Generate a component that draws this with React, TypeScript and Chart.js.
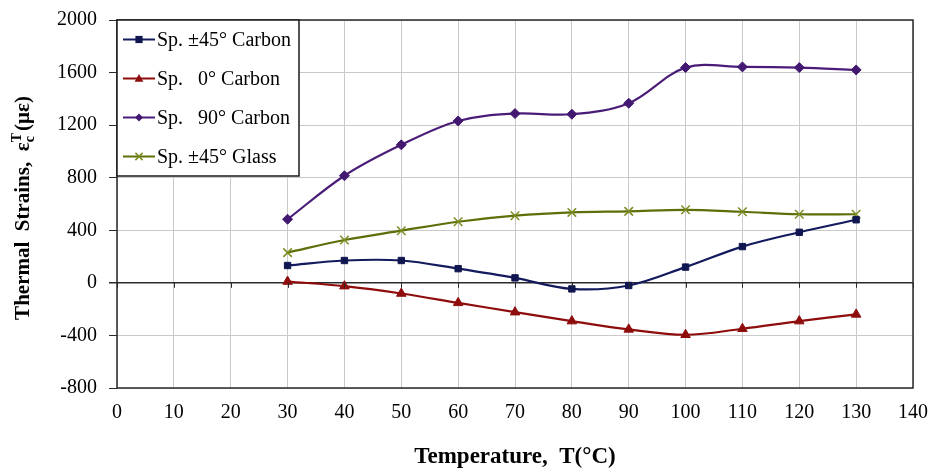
import React, { useEffect, useRef } from "react";
import { Chart, registerables } from "chart.js";

Chart.register(...registerables);

const temperatures = [30, 40, 50, 60, 70, 80, 90, 100, 110, 120, 130];
const carbon45 = [132, 170, 170, 108, 38, -46, -20, 120, 276, 385, 480];
const carbon0 = [10, -25, -81, -152, -223, -291, -354, -395, -349, -291, -240];
const carbon90 = [484, 815, 1050, 1232, 1288, 1283, 1367, 1638, 1643, 1638, 1620];
const glass45 = [230, 326, 397, 465, 511, 536, 544, 556, 541, 522, 522];

const seriesLabels = ["Sp. ±45° Carbon", "Sp.   0° Carbon", "Sp.   90° Carbon", "Sp. ±45° Glass"];
const xTicks = [0, 10, 20, 30, 40, 50, 60, 70, 80, 90, 100, 110, 120, 130, 140];
const yTicks = [-800, -400, 0, 400, 800, 1200, 1600, 2000];

const colors = ["#141a5e", "#8e0c0c", "#4a1c78", "#5f6e08"];
const markerColors = ["#101650", "#8e0c0c", "#421870", "#7d8c22"];
const pointStyles = ["rect", "triangle", "rectRot", "crossRot"];
const pointRadii = [4.5, 5.5, 5, 6];

const SERIF = "'Liberation Serif', 'Times New Roman', serif";

function drawMarker(ctx: CanvasRenderingContext2D, style: string, x: number, y: number, r: number, color: string) {
  ctx.save();
  ctx.fillStyle = color;
  ctx.strokeStyle = color;
  ctx.lineWidth = 1.5;
  ctx.beginPath();
  if (style === "rect") {
    ctx.rect(x - r, y - r, 2 * r, 2 * r);
    ctx.fill();
  } else if (style === "triangle") {
    ctx.moveTo(x, y - r);
    ctx.lineTo(x + r, y + r * 0.75);
    ctx.lineTo(x - r, y + r * 0.75);
    ctx.closePath();
    ctx.fill();
  } else if (style === "rectRot") {
    ctx.moveTo(x, y - r);
    ctx.lineTo(x + r, y);
    ctx.lineTo(x, y + r);
    ctx.lineTo(x - r, y);
    ctx.closePath();
    ctx.fill();
  } else {
    const d = r * 0.75;
    ctx.moveTo(x - d, y - d);
    ctx.lineTo(x + d, y + d);
    ctx.moveTo(x + d, y - d);
    ctx.lineTo(x - d, y + d);
    ctx.stroke();
  }
  ctx.restore();
}

const framePlugin = {
  id: "frame",
  afterDatasetsDraw(chart: any) {
    const { ctx, chartArea } = chart;
    const x = chart.scales.x;
    const y = chart.scales.y;
    const y0 = y.getPixelForValue(0);
    ctx.save();
    ctx.strokeStyle = "#2a2a2a";
    ctx.lineWidth = 1;
    xTicks.forEach((t) => {
      const px = Math.round(x.getPixelForValue(t)) + 0.5;
      ctx.beginPath();
      ctx.moveTo(px, y0);
      ctx.lineTo(px, y0 + 5);
      ctx.stroke();
    });
    ctx.lineWidth = 1.5;
    ctx.strokeRect(chartArea.left, chartArea.top, chartArea.right - chartArea.left, chartArea.bottom - chartArea.top);
    ctx.restore();
  },
  afterDraw(chart: any) {
    const { ctx, chartArea } = chart;
    // Legend
    const bx = chartArea.left;
    const by = chartArea.top;
    const bw = 182;
    const bh = 156;
    ctx.save();
    ctx.fillStyle = "#ffffff";
    ctx.fillRect(bx, by, bw, bh);
    ctx.strokeStyle = "#1a1a1a";
    ctx.lineWidth = 1.5;
    ctx.strokeRect(bx, by, bw, bh);
    ctx.font = `20px ${SERIF}`;
    ctx.textBaseline = "middle";
    ctx.textAlign = "left";
    seriesLabels.forEach((lab, i) => {
      const cy = by + 19.5 + i * 39;
      ctx.strokeStyle = colors[i];
      ctx.lineWidth = 2;
      ctx.beginPath();
      ctx.moveTo(bx + 6, cy);
      ctx.lineTo(bx + 38, cy);
      ctx.stroke();
      drawMarker(ctx, pointStyles[i], bx + 22, cy, pointRadii[i] * 0.8, markerColors[i]);
      ctx.fillStyle = "#000000";
      ctx.fillText(lab, bx + 40, cy + 1);
    });
    ctx.restore();

    // Axis titles
    ctx.save();
    ctx.fillStyle = "#000000";
    ctx.textBaseline = "alphabetic";
    ctx.font = `bold 23px ${SERIF}`;
    ctx.textAlign = "center";
    ctx.fillText("Temperature,  T(°C)", (chartArea.left + chartArea.right) / 2, 463);

    // Y title with super/subscript
    const cx = 29;
    const cyc = (chartArea.top + chartArea.bottom) / 2 + 4;
    ctx.translate(cx, cyc);
    ctx.rotate(-Math.PI / 2);
    ctx.textAlign = "left";
    const main = "Thermal  Strains,  ε";
    const tail = "(με)";
    const bigFont = `bold 21px ${SERIF}`;
    const smallFont = `bold 14px ${SERIF}`;
    ctx.font = bigFont;
    const wMain = ctx.measureText(main).width;
    const wTail = ctx.measureText(tail).width;
    ctx.font = smallFont;
    const wSup = Math.max(ctx.measureText("T").width, ctx.measureText("c").width);
    const total = wMain + wSup + 2 + wTail;
    let px = -total / 2;
    ctx.font = bigFont;
    ctx.fillText(main, px, 0);
    px += wMain;
    ctx.font = smallFont;
    ctx.fillText("T", px, -8);
    ctx.fillText("c", px, 5);
    px += wSup + 2;
    ctx.font = bigFont;
    ctx.fillText(tail, px, 0);
    ctx.restore();
  },
};

export default function App() {
  const ref = useRef<HTMLCanvasElement | null>(null);
  useEffect(() => {
    document.body.style.margin = "0";
    if (!ref.current) return;
    const makeDs = (label: string, data: number[], i: number) => ({
      label,
      data: temperatures.map((t, k) => ({ x: t, y: data[k] })),
      borderColor: colors[i],
      backgroundColor: markerColors[i],
      pointBorderColor: markerColors[i],
      pointBackgroundColor: markerColors[i],
      pointStyle: pointStyles[i],
      pointRadius: pointRadii[i],
      pointBorderWidth: i === 3 ? 1.5 : 1,
      borderWidth: 2.2,
      tension: 0.35,
      fill: false,
    });
    const chart = new Chart(ref.current, {
      type: "line",
      data: {
        datasets: [
          makeDs(seriesLabels[0], carbon45, 0),
          makeDs(seriesLabels[1], carbon0, 1),
          makeDs(seriesLabels[2], carbon90, 2),
          makeDs(seriesLabels[3], glass45, 3),
        ],
      },
      options: {
        animation: false,
        responsive: false,
        maintainAspectRatio: false,
        layout: { padding: { left: 0, right: 18, top: 20, bottom: 0 } },
        plugins: {
          legend: { display: false },
          tooltip: { enabled: false },
          title: { display: false },
        },
        scales: {
          x: {
            type: "linear",
            min: 0,
            max: 140,
            afterFit: (s: any) => {
              s.height = 80;
              s.paddingLeft = 0;
              s.paddingRight = 0;
            },
            afterBuildTicks: (s: any) => {
              s.ticks = xTicks.map((v) => ({ value: v }));
            },
            ticks: {
              color: "#000000",
              font: { family: SERIF, size: 20 },
              padding: 13,
              maxRotation: 0,
              autoSkip: false,
              callback: (v: any) => String(v),
            },
            grid: { color: "#c9c9c9", lineWidth: 1, drawTicks: false },
            border: { display: false },
          },
          y: {
            type: "linear",
            min: -800,
            max: 2000,
            afterFit: (s: any) => {
              s.width = 117;
              s.paddingTop = 0;
              s.paddingBottom = 0;
            },
            afterBuildTicks: (s: any) => {
              s.ticks = yTicks.map((v) => ({ value: v }));
            },
            ticks: {
              color: "#000000",
              font: { family: SERIF, size: 20 },
              padding: 12,
              autoSkip: false,
              callback: (v: any) => String(v),
            },
            grid: {
              color: (c: any) => (c.tick && c.tick.value === 0 ? "#2a2a2a" : "#c9c9c9"),
              lineWidth: (c: any) => (c.tick && c.tick.value === 0 ? 1.5 : 1),
              tickColor: "#2a2a2a",
              tickLength: 8,
              drawTicks: true,
            },
            border: { display: false },
          },
        },
      },
      plugins: [framePlugin],
    });
    return () => chart.destroy();
  }, []);
  return (
    <div style={{ width: 931, height: 468, background: "#ffffff" }}>
      <canvas ref={ref} width={931} height={468} style={{ display: "block" }} />
    </div>
  );
}
